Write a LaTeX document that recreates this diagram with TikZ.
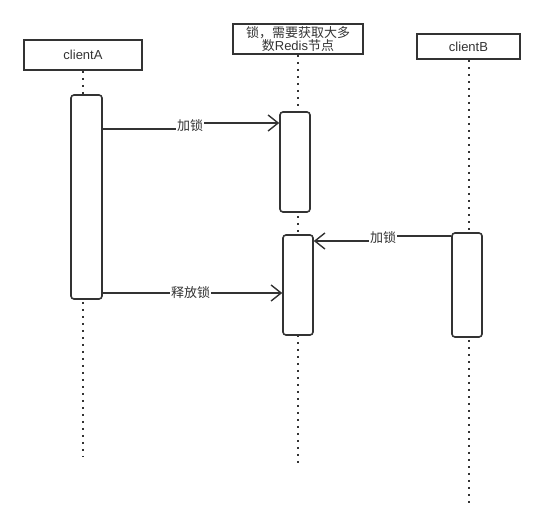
\documentclass[tikz,border=0pt]{standalone}
\usepackage{fontspec}
\setmainfont{Liberation Sans}
\newfontfamily\cjk{Noto Sans CJK SC}
\usetikzlibrary{arrows.meta}
\definecolor{ink}{HTML}{333333}

\begin{document}
\begin{tikzpicture}[x=1pt,y=-1pt,
  actor/.style={draw=ink,line width=1.6pt,inner sep=0pt,text=ink,font=\fontsize{13}{13.5}\selectfont},
  actbar/.style={draw=ink,fill=white,line width=1.6pt,rounded corners=3pt,minimum width=30pt,inner sep=0pt},
  lifeline/.style={draw=ink,line width=1.6pt,dash pattern=on 2.5pt off 4.5pt},
  msg/.style={draw=ink,line width=1.4pt,-{Straight Barb[length=10pt,width=16pt]}},
  msglabel/.style={fill=white,inner sep=1pt,text=ink,font=\cjk\fontsize{13}{13}\selectfont}]
  \useasboundingbox (0,0) rectangle (546,532);
  \node[actor,minimum width=118pt,minimum height=30pt] (clientA) at (83,55) {clientA};
  \node[actor,minimum width=130pt,minimum height=30pt,align=center] (redis) at (298,39)
    {{\cjk 锁，需要获取大多}\\{\cjk 数}Redis{\cjk 节点}};
  \node[actor,minimum width=103pt,minimum height=25pt] (clientB) at (468.5,46.5) {clientB};
  \coordinate (endA) at (83,457);
  \coordinate (endR) at (298,463);
  \coordinate (endB) at (469,507);
  \draw[lifeline] (clientA.south) -- (endA);
  \draw[lifeline] (redis.south) -- (endR);
  \draw[lifeline] ([xshift=0.5pt]clientB.south) -- (endB);
  \node[actbar,minimum width=31pt,minimum height=204pt] (actA) at (86.5,197) {};
  \node[actbar,minimum height=100pt] (midA) at (295,162) {};
  \node[actbar,minimum height=100pt] (midB) at (298,285) {};
  \node[actbar,minimum height=104pt] (actB) at (467,285) {};
  \coordinate (j1) at (190,126);
  \coordinate (j2) at (383,238);
  \draw[msg] ([yshift=68pt]actA.east) -| (j1) node[msglabel]{加锁} |- ([yshift=39pt]midA.west);
  \draw[msg] ([yshift=49pt]actB.west) -| (j2) node[msglabel]{加锁} |- ([yshift=44pt]midB.east);
  \draw[msg] ([yshift=-96pt]actA.east) -- node[msglabel,pos=0.49]{释放锁} ([yshift=-8pt]midB.west);
\end{tikzpicture}
\end{document}
